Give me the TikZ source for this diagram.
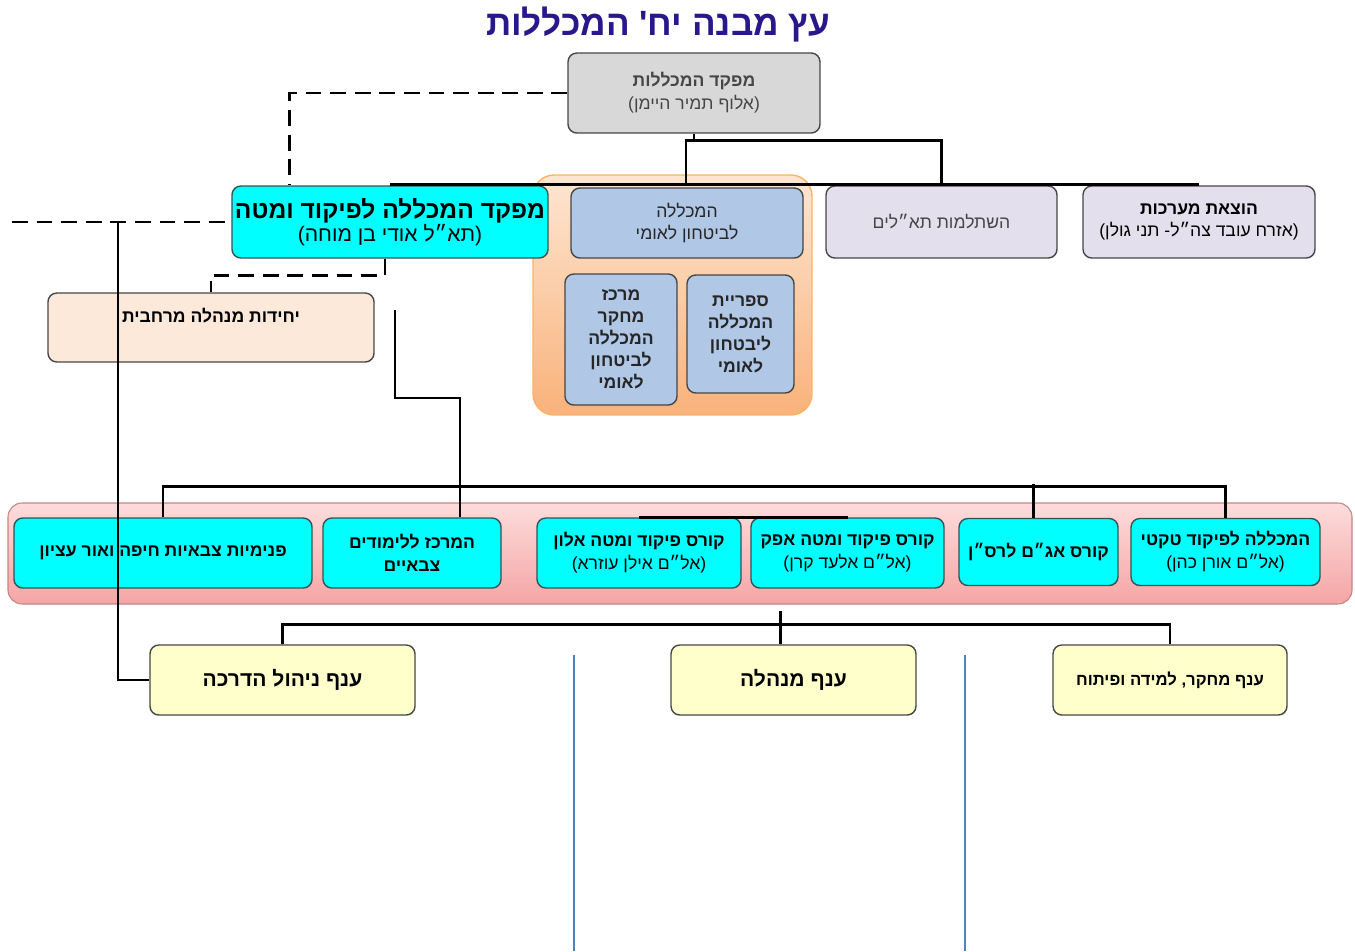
\documentclass[tikz,border=0pt]{standalone}
\usepackage{fontspec}
\setmainfont{Liberation Sans}
\newfontfamily\heb[Script=Hebrew]{Liberation Sans}
\TeXXeTstate=1
\usetikzlibrary{calc}

\newcommand{\rl}[1]{\beginR#1\endR}

\definecolor{titleblue}{RGB}{40,24,140}
\definecolor{boxline}{RGB}{70,70,70}
\definecolor{cmdgray}{RGB}{216,216,216}
\definecolor{hqcyan}{RGB}{0,255,255}
\definecolor{nscblue}{RGB}{176,199,230}
\definecolor{lilac}{RGB}{228,223,236}
\definecolor{peach}{RGB}{253,233,217}
\definecolor{branchyellow}{RGB}{255,255,204}
\definecolor{orangetop}{RGB}{253,230,210}
\definecolor{orangebot}{RGB}{249,178,122}
\definecolor{pinktop}{RGB}{253,220,220}
\definecolor{pinkbot}{RGB}{245,165,165}
\definecolor{splitblue}{RGB}{79,129,189}
\definecolor{softtext}{RGB}{70,70,70}

\begin{document}
\begin{tikzpicture}[x=0.02cm,y=-0.02cm,
	every node/.style={font=\heb\fontsize{10}{13}\selectfont},
	boxsize/.style 2 args={minimum width=#1*0.02cm, minimum height=#2*0.02cm},
	unit/.style={draw=boxline, line width=0.8pt, rounded corners=5pt, align=center, inner sep=0pt},
	graybox/.style={unit, fill=cmdgray, text=softtext},
	cyanbox/.style={unit, fill=hqcyan, draw=boxline!80!teal},
	bluebox/.style={unit, fill=nscblue, text=black!85},
	lilacbox/.style={unit, fill=lilac, text=softtext},
	peachbox/.style={unit, fill=peach},
	yellowbox/.style={unit, fill=branchyellow, font=\heb\bfseries\fontsize{12}{15}\selectfont},
	conn/.style={line width=1.6pt, black},
	dashline/.style={conn, dash pattern=on 9pt off 5pt},
	split/.style={line width=1.1pt, splitblue}]

	\useasboundingbox (0,0) rectangle (1355,951);

	% title
	\node[font=\heb\bfseries\fontsize{20}{24}\selectfont, text=titleblue] (title) at (658,25) {\rl{עץ מבנה יח' המכללות}};

	% background groups
	\node[draw=orange!60, line width=0.8pt, rounded corners=12pt, top color=orangetop, bottom color=orangebot, boxsize={279}{240}] (nscgroup) at (672.5,295) {};
	\node[draw=pinkbot!80!black, line width=0.6pt, rounded corners=8pt, top color=pinktop, bottom color=pinkbot, boxsize={1344}{101}] (band) at (680,553.5) {};

	% top level
	\node[graybox, boxsize={252}{80}] (cmd) at (694,93) {\textbf{\rl{מפקד המכללות}}\\\rl{(אלוף תמיר היימן)}};

	\node[cyanbox, boxsize={316}{72}] (hq) at (390,222) {{\bfseries\fontsize{14}{17}\selectfont\rl{מפקד המכללה לפיקוד ומטה}}\\{\fontsize{12}{15}\selectfont\rl{(תא״ל אודי בן מוחה)}}};
	\node[bluebox, boxsize={232}{70}] (nsc) at (687,223) {\rl{המכללה}\\\rl{לביטחון לאומי}};
	\node[bluebox, boxsize={112}{131}, font=\heb\bfseries\fontsize{10}{12.5}\selectfont] (research) at (621,339.5) {\rl{מרכז}\\\rl{מחקר}\\\rl{המכללה}\\\rl{לביטחון}\\\rl{לאומי}};
	\node[bluebox, boxsize={107}{118}, font=\heb\bfseries\fontsize{10}{12.5}\selectfont] (library) at (740.5,334) {\rl{ספריית}\\\rl{המכללה}\\\rl{ליבטחון}\\\rl{לאומי}};
	\node[lilacbox, boxsize={231}{72}] (taalim) at (941.5,222) {\rl{השתלמות תא״לים}};
	\node[lilacbox, boxsize={232}{72}, text=black] (maarachot) at (1199,222) {\textbf{\rl{הוצאת מערכות}}\\\rl{(אזרח עובד צה״ל- תני גולן)}};

	\node[peachbox, boxsize={326}{69}] (regional) at (211,327.5) {};
	\node[font=\heb\bfseries\fontsize{10}{13}\selectfont] (regionaltext) at (211,316) {\rl{יחידות מנהלה מרחבית}};

	% schools row
	\node[cyanbox, boxsize={298}{70}, font=\heb\bfseries\fontsize{10}{13}\selectfont] (pnimiyot) at (163,553) {\rl{פנימיות צבאיות חיפה ואור עציון}};
	\node[cyanbox, boxsize={178}{70}, font=\heb\bfseries\fontsize{10}{13}\selectfont] (limudim) at (412,553) {\rl{המרכז ללימודים}\\\rl{צבאיים}};
	\node[cyanbox, boxsize={204}{70}] (alon) at (639,553) {\textbf{\rl{קורס פיקוד ומטה אלון}}\\\rl{(אל״ם אילן עוזרא)}};
	\node[cyanbox, boxsize={193}{70}] (afek) at (847.5,553) {\textbf{\rl{קורס פיקוד ומטה אפק}}\\\rl{(אל״ם אלעד קרן)}};
	\node[cyanbox, boxsize={159}{67}, font=\heb\bfseries\fontsize{10}{13}\selectfont] (agam) at (1038.5,552) {\rl{קורס אג״ם לרס״ן}};
	\node[cyanbox, boxsize={189}{67}] (tactical) at (1225.5,552) {\textbf{\rl{המכללה לפיקוד טקטי}}\\\rl{(אל״ם אורן כהן)}};

	% branches
	\node[yellowbox, boxsize={265}{70}] (hadracha) at (282.5,680) {\rl{ענף ניהול הדרכה}};
	\node[yellowbox, boxsize={245}{70}] (minhala) at (793.5,680) {\rl{ענף מנהלה}};
	\node[yellowbox, boxsize={234}{70}, font=\heb\bfseries\fontsize{9.5}{12}\selectfont] (mechkar) at (1170,680) {\rl{ענף מחקר, למידה ופיתוח}};

	% free ends
	\coordinate (leftend) at (12,222);
	\coordinate (sideline) at (118,222);
	\coordinate (regtail) at (395,310);
	\coordinate (rowjoint) at (460,398);

	% dashed (staff) lines
	\draw[dashline] (cmd.west) -| ($(hq.north west)+(58,0)$);
	\draw[dashline] (leftend) -- (hq.west);
	\draw[dashline] ($(hq.south)+(-5,0)$) |- ($(regional.north)+(0,-17)$) -- (regional.north);

	% command lines
	\draw[conn] (cmd.south) -- ++(0,7);
	\draw[conn] ($(nsc.north)+(-1,-3)$) |- ($(cmd.south)+(0,7)$) -| ($(taalim.north)+(0,-1)$);
	\draw[conn] ($(hq.north)+(0,-1)$) -- ($(maarachot.north)+(0,-1)$);

	\draw[conn] (sideline) |- (hadracha.west);

	\draw[conn] (regtail) |- (rowjoint) -- (rowjoint |- limudim.north);
	\draw[conn] (pnimiyot.north) -- ++(0,-31) -| (tactical.north);
	\draw[conn] ($(agam.north)+(-5,-34)$) -- ($(agam.north)+(-5,0)$);
	\draw[conn] (alon.north) -- (afek.north);

	\draw[conn] (hadracha.north) -- ++(0,-20) -| (mechkar.north);
	\draw[conn] ($(minhala.north)+(-13,0)$) -- ++(0,-33);

	% split lines
	\draw[split] (574,655) -- (574,951);
	\draw[split] (965,655) -- (965,951);

\end{tikzpicture}
\end{document}
